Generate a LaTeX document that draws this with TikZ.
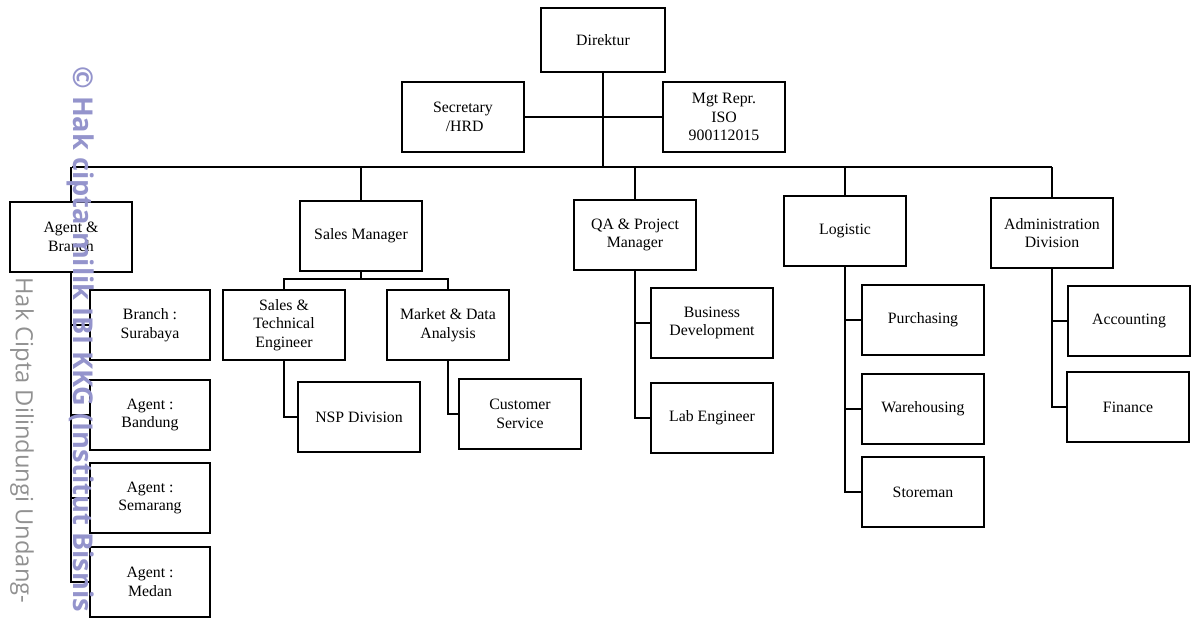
\documentclass[tikz,border=0pt]{standalone}
\usepackage{fontspec}
\setmainfont{Liberation Serif}
\newfontfamily\wmfont{Open Sans}
\usetikzlibrary{positioning, calc}
\definecolor{wmblue}{RGB}{148, 148, 204}
\definecolor{wmgray}{RGB}{145, 145, 145}

\begin{document}
\begin{tikzpicture}[x=0.02cm, y=-0.02cm,
    box/.style={rectangle, draw, line width=0.8pt, fill=white,
                minimum width=2.44cm, minimum height=1.4cm, inner sep=2pt,
                align=center, font=\fontsize{9}{10.5}\selectfont},
    link/.style={line width=1pt}]
    \useasboundingbox (0,0) rectangle (1193,619);

    % Direktur and staff
    \node[box, minimum width=2.48cm, minimum height=1.28cm] (dir) at (603,40) {Direktur};
    \node[box, align=left] (sec) at (463,117) {Secretary\\\hspace*{0.8em}/HRD};
    \node[box] (mgt) at (724,117) {Mgt Repr.\\ISO\\900112015};

    % Main bus
    \coordinate (busL) at (72,167);
    \coordinate (busR) at (1052,167);

    % Departments
    \node[box] (agent) at (71,237) {Agent \&\\Branch};
    \node[box] (sales) at (361,236) {Sales Manager};
    \node[box] (qa) at (635,235) {QA \& Project\\Manager};
    \node[box] (logi) at (845,231) {Logistic};
    \node[box] (adm) at (1052,233) {Administration\\Division};

    % Agent & Branch
    \node[box, minimum width=2.4cm] (sby) at (150,325) {Branch :\\Surabaya};
    \node[box, minimum width=2.4cm] (bdg) at (150,415) {Agent :\\Bandung};
    \node[box, minimum width=2.4cm] (smg) at (150,498) {Agent :\\Semarang};
    \node[box, minimum width=2.4cm] (mdn) at (150,582) {Agent :\\Medan};

    % Sales
    \node[box] (ste) at (284,325) {Sales \&\\Technical\\Engineer};
    \node[box] (mda) at (448,325) {Market \& Data\\Analysis};
    \node[box] (nsp) at (359,417) {NSP Division};
    \node[box] (cs) at (520,414) {Customer\\Service};

    % QA
    \node[box] (bd) at (712,323) {Business\\Development};
    \node[box] (lab) at (712,418) {Lab Engineer};

    % Logistic
    \node[box] (pur) at (923,320) {Purchasing};
    \node[box] (wh) at (923,409) {Warehousing};
    \node[box] (sto) at (923,492) {Storeman};

    % Administration
    \node[box] (acc) at (1129,321) {Accounting};
    \node[box] (fin) at (1128,407) {Finance};

    % Connectors
    \draw[link] (dir.south) -- (dir.south |- busL);
    \draw[link] (sec.east) -- (mgt.west);
    \draw[link] (busL) -- (busR);
    \foreach \n in {agent, sales, qa, logi, adm}
        \draw[link] (\n.north) -- (\n.north |- busL);
    \foreach \n in {sby, bdg, smg, mdn}
        \draw[link] (agent.south) |- (\n.west);
    \coordinate (sbus) at (361,279);
    \draw[link] (sales.south) -- (sbus);
    \draw[link] (ste.north) |- (sbus) -| (mda.north);
    \draw[link] (ste.south) |- (nsp.west);
    \draw[link] (mda.south) |- (cs.west);
    \foreach \n in {bd, lab}
        \draw[link] (qa.south) |- (\n.west);
    \foreach \n in {pur, wh, sto}
        \draw[link] (logi.south) |- (\n.west);
    \foreach \n in {acc, fin}
        \draw[link] (adm.south) |- (\n.west);

    % Watermarks
    \node[rotate=-90, anchor=west, inner sep=0pt, text=wmblue,
          font=\wmfont\bfseries\fontsize{15.5}{16}\selectfont] (wmark) at (81,66)
        {© Hak cipta milik IBI KKG (Institut Bisnis};
    \node[rotate=-90, anchor=west, inner sep=0pt, text=wmgray,
          font=\wmfont\fontsize{13.5}{14}\selectfont] (wmnote) at (22,277)
        {Hak Cipta Dilindungi Undang-};
\end{tikzpicture}
\end{document}
